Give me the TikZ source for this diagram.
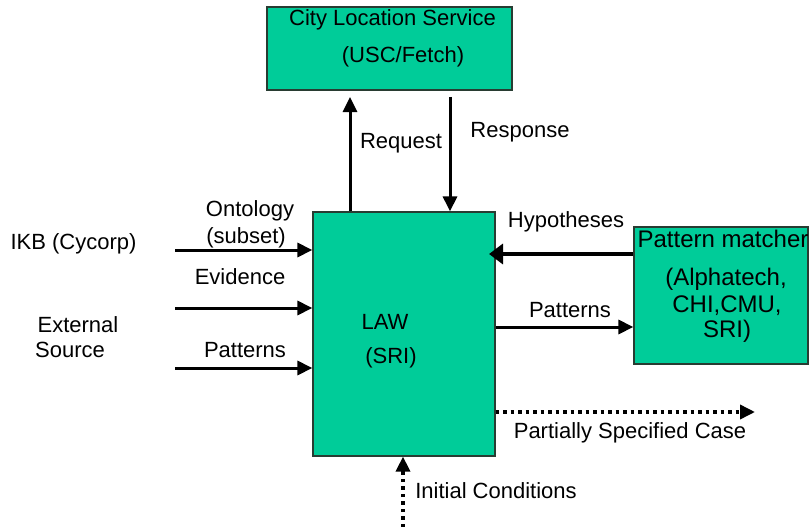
\documentclass[tikz,border=0pt]{standalone}
\usepackage{fontspec}
\setmainfont{Liberation Sans}
\usetikzlibrary{arrows.meta}
\definecolor{boxfill}{RGB}{0,204,153}
\definecolor{boxline}{RGB}{40,60,50}
\tikzset{
  box/.style={draw=boxline,line width=1.2pt,fill=boxfill,inner sep=0pt},
  lbl/.style={anchor=base,inner sep=0pt,font=\fontsize{22}{26}\selectfont},
  plbl/.style={anchor=base,inner sep=0pt,font=\fontsize{24}{28}\selectfont},
  arr/.style={line width=3pt,-{Triangle[length=15pt,width=14pt]}},
  harr/.style={line width=4.5pt,-{Triangle[length=14pt,width=20pt]}},
  darr/.style={line width=3.5pt,dash pattern=on 3.5pt off 4pt,-{Triangle[length=15pt,width=14pt]}}
}
\begin{document}
\begin{tikzpicture}[x=1pt,y=-1pt]
\useasboundingbox (0,0) rectangle (809,527);
% boxes
\node[box,minimum width=245pt,minimum height=83pt] (cls) at (389.5,48.5) {};
\node[box,minimum width=182pt,minimum height=244pt] (law) at (404,334) {};
\node[box,minimum width=174pt,minimum height=137pt] (pm) at (721,295.5) {};
% box texts
\node[lbl] (t1) at (392.5,26) {City Location Service};
\node[lbl] (t2) at (403,63) {(USC/Fetch)};
\node[lbl] (t3) at (385,329) {LAW};
\node[lbl] (t4) at (391,363) {(SRI)};
\node[plbl] (t5) at (723,247) {Pattern matcher};
\node[plbl] (t6) at (726,285) {(Alphatech,};
\node[plbl] (t7) at (727,312) {CHI,CMU,};
\node[plbl] (t8) at (727,337) {SRI)};
% outside labels
\node[lbl] (ikb) at (73.5,249) {IKB (Cycorp)};
\node[lbl] (ext1) at (78,332) {External};
\node[lbl] (ext2) at (70,357) {Source};
\node[lbl] (l1) at (250,216) {Ontology};
\node[lbl] (l2) at (246,243) {(subset)};
\node[lbl] (l3) at (240,284) {Evidence};
\node[lbl] (l4) at (245,357) {Patterns};
\node[lbl] (l5) at (401,148) {Request};
\node[lbl] (l6) at (520,137) {Response};
\node[lbl] (l7) at (566,227) {Hypotheses};
\node[lbl] (l8) at (570,317) {Patterns};
\node[lbl] (l9) at (630,438) {Partially Specified Case};
\node[lbl] (l10) at (496,498) {Initial Conditions};
% free ends
\coordinate (reqtip) at (350,97);
\coordinate (resst) at (450,97);
\coordinate (a1) at (175,250);
\coordinate (a2) at (175,308);
\coordinate (a3) at (175,368);
\coordinate (htip) at (489,254);
\coordinate (ptip) at (634,327);
\coordinate (dst) at (495,412);
\coordinate (dtip) at (755,412);
\coordinate (ist) at (403,527);
% connectors
\draw[arr] (law.north -| reqtip) -- (reqtip);
\draw[arr] (resst) -- (law.north -| resst);
\draw[arr] (a1) -- (law.west |- a1);
\draw[arr] (a2) -- (law.west |- a2);
\draw[arr] (a3) -- (law.west |- a3);
\draw[harr] (pm.west |- htip) -- (htip);
\draw[arr] (law.east |- ptip) -- (pm.west |- ptip);
\draw[darr] (law.east |- dst) -- (dtip);
\draw[darr] (ist) -- (law.south -| ist);
\end{tikzpicture}
\end{document}
